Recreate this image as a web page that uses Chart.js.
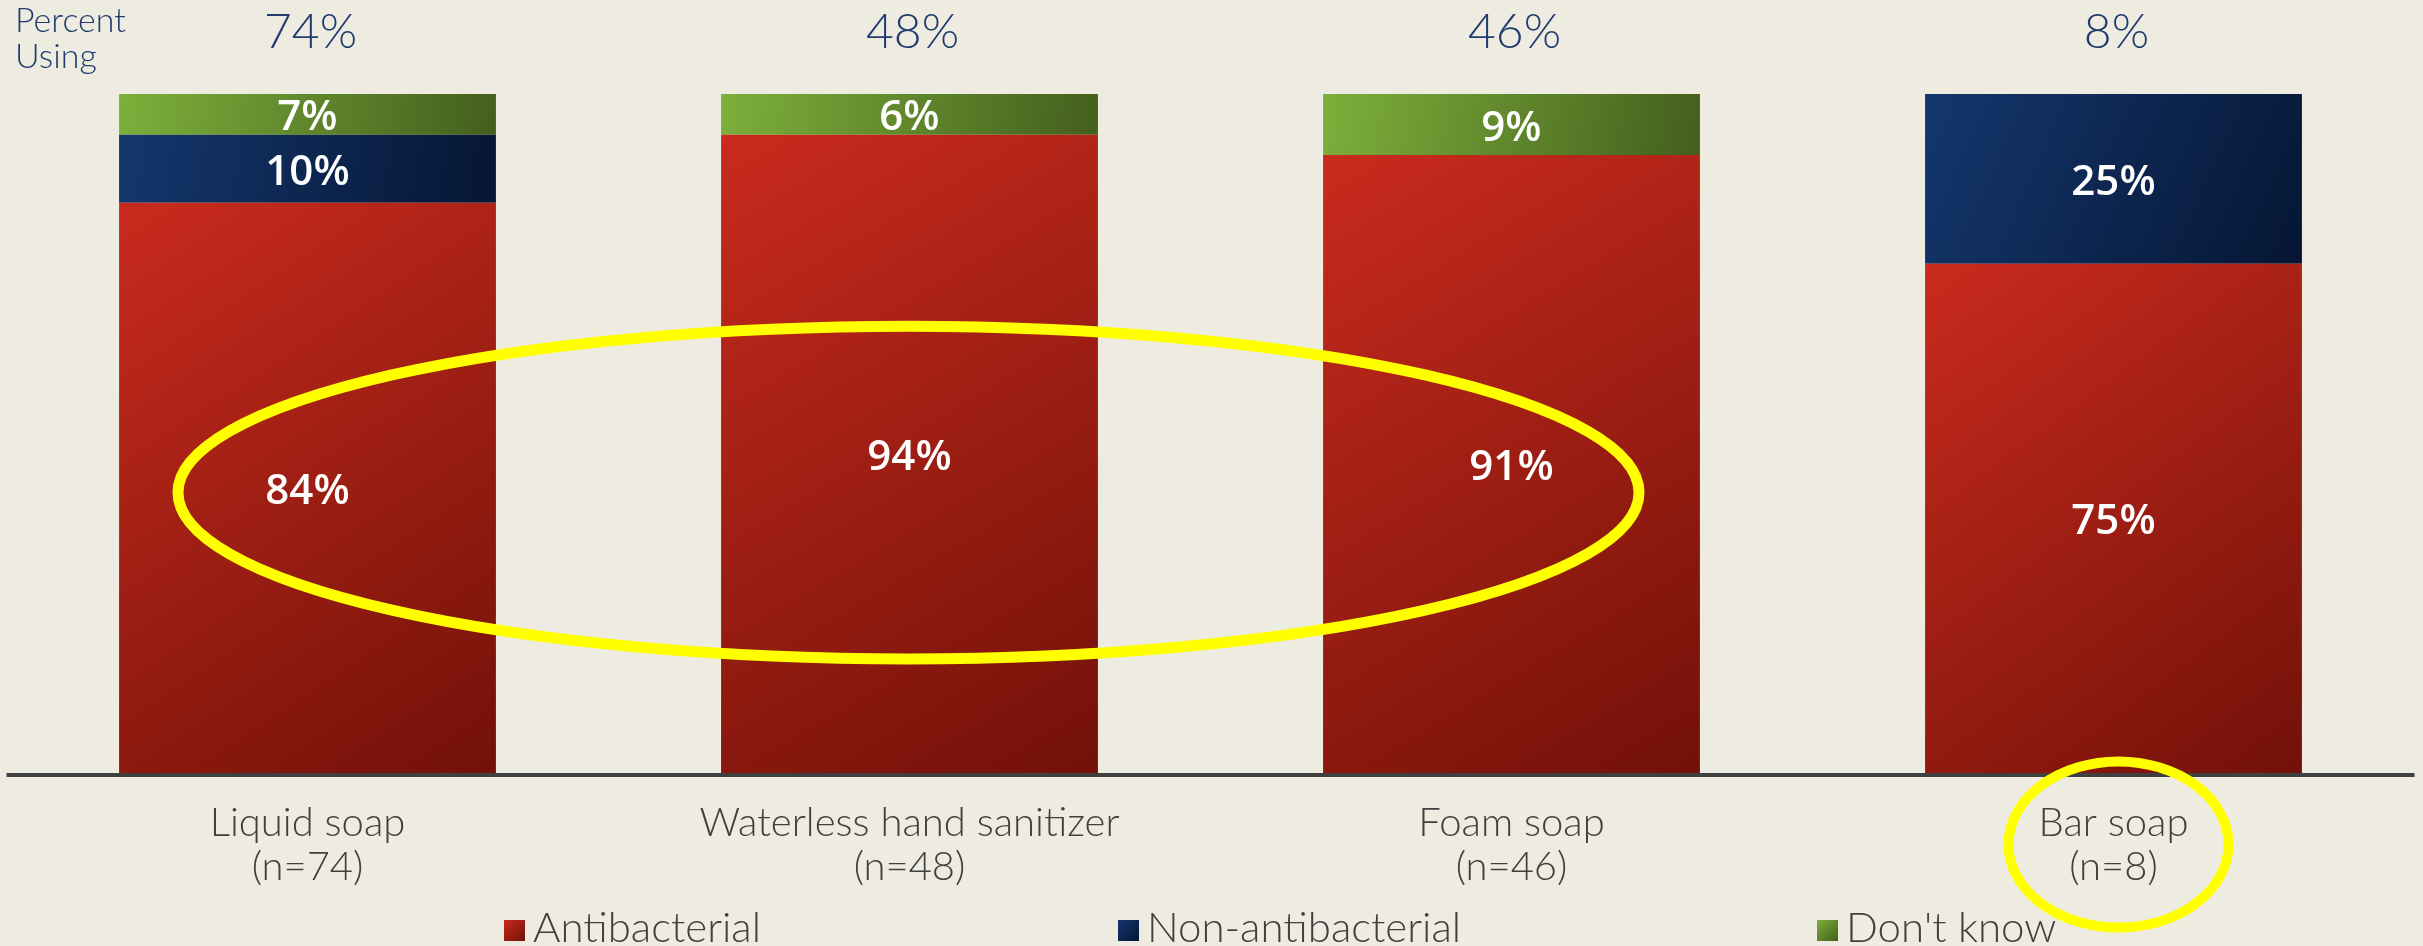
<!DOCTYPE html>
<html>
<head>
<meta charset="utf-8">
<script src="https://cdn.jsdelivr.net/npm/chart.js@4"></script>
<style>
  html, body { margin: 0; padding: 0; background: #EEEBE0; }
  canvas { display: block; }
</style>
</head>
<body>
<canvas id="c" width="2423" height="946"></canvas>
<script>
// ---- data ----
const categories = ['Liquid soap', 'Waterless hand sanitizer', 'Foam soap', 'Bar soap'];
const sampleSizes = ['(n=74)', '(n=48)', '(n=46)', '(n=8)'];
const percentUsing = [74, 48, 46, 8];
const antibacterial = [84, 94, 91, 75];
const nonAntibacterial = [10, 0, 0, 25];
const dontKnow = [7, 6, 9, 0];
const seriesNames = ['Antibacterial', 'Non-antibacterial', "Don't know"];

// ---- styles ----
const BG = '#EEEBE0';
const gradStops = [
  ['#C92B1D', '#721109'],
  ['#14376E', '#061633'],
  ['#7DAF3B', '#435F1D']
];
const seriesData = [antibacterial, nonAntibacterial, dontKnow];
const BAR_PCT = 0.626;
const LIGHT_FONT = '"Lato", "Open Sans", sans-serif';

function segmentGradient(ctx, x0, y0, x1, y1, stops) {
  const g = ctx.createLinearGradient(x0, y0, x1, y1);
  g.addColorStop(0, stops[0]);
  g.addColorStop(1, stops[1]);
  return g;
}

function makeBg(dsIndex) {
  return function (c) {
    const chart = c.chart;
    if (c.type !== 'data' || !chart.chartArea) return gradStops[dsIndex][0];
    const xs = chart.scales.x, ys = chart.scales.y, area = chart.chartArea;
    const i = c.dataIndex;
    let base = 0;
    for (let d = 0; d < dsIndex; d++) base += seriesData[d][i];
    const top = base + seriesData[dsIndex][i];
    const cx = xs.getPixelForValue(i);
    const half = (xs.width / categories.length) * BAR_PCT / 2;
    const y0 = Math.max(ys.getPixelForValue(top), area.top);
    const y1 = ys.getPixelForValue(base);
    return segmentGradient(chart.ctx, cx - half, y0, cx + half, Math.max(y1, y0 + 1), gradStops[dsIndex]);
  };
}

const overlay = {
  id: 'overlay',
  afterDatasetsDraw(chart) {
    const ctx = chart.ctx, area = chart.chartArea;
    const xs = chart.scales.x, ys = chart.scales.y;
    // baseline axis
    ctx.save();
    ctx.strokeStyle = '#404040';
    ctx.lineWidth = 4;
    ctx.beginPath();
    ctx.moveTo(area.left, area.bottom + 2);
    ctx.lineTo(area.right, area.bottom + 2);
    ctx.stroke();

    // in-bar value labels
    ctx.fillStyle = '#FFFFFF';
    ctx.font = '600 42px "Open Sans", sans-serif';
    ctx.textAlign = 'center';
    ctx.textBaseline = 'middle';
    chart.data.datasets.forEach((ds, d) => {
      const meta = chart.getDatasetMeta(d);
      meta.data.forEach((el, i) => {
        const v = ds.data[i];
        if (!v) return;
        const top = Math.max(Math.min(el.y, el.base), area.top);
        const bot = Math.max(el.y, el.base);
        ctx.fillText(v + '%', el.x, (top + bot) / 2 + 4);
      });
    });

    // "Percent Using" header values
    ctx.fillStyle = '#1F3B6F';
    ctx.font = '300 48px ' + LIGHT_FONT;
    ctx.textBaseline = 'alphabetic';
    percentUsing.forEach((p, i) => {
      ctx.fillText(p + '%', xs.getPixelForValue(i) + 3, 48);
    });
    ctx.textAlign = 'left';
    ctx.font = '300 34px ' + LIGHT_FONT;
    ctx.fillText('Percent', 15, 32);
    ctx.fillText('Using', 15, 68);

    // category labels
    ctx.fillStyle = '#404040';
    ctx.textAlign = 'center';
    ctx.font = '300 40px ' + LIGHT_FONT;
    categories.forEach((cat, i) => {
      const x = xs.getPixelForValue(i);
      ctx.fillText(cat, x, area.bottom + 63);
      ctx.fillText(sampleSizes[i], x, area.bottom + 107);
    });

    // legend
    ctx.textAlign = 'left';
    ctx.font = '300 42px ' + LIGHT_FONT;
    const legendX = [504, 1118, 1817];
    const ly = area.bottom + 147;
    seriesNames.forEach((name, d) => {
      const lx = legendX[d];
      ctx.fillStyle = segmentGradient(ctx, lx, ly, lx + 21, ly + 21, gradStops[d]);
      ctx.fillRect(lx, ly, 21, 21);
      ctx.fillStyle = '#404040';
      ctx.fillText(name, lx + 29, ly + 22);
    });
    ctx.restore();
  },
  afterDraw(chart) {
    const ctx = chart.ctx, area = chart.chartArea;
    const xs = chart.scales.x, ys = chart.scales.y;
    const catW = xs.width / categories.length;
    ctx.save();
    ctx.strokeStyle = '#FFFF00';
    // big ellipse around the first three antibacterial values
    ctx.lineWidth = 11;
    ctx.beginPath();
    const cy = ys.getPixelForValue(41.3);
    const ry = Math.abs(ys.getPixelForValue(0) - ys.getPixelForValue(24.5));
    ctx.ellipse(xs.getPixelForValue(1) - 1, cy, catW * 1.2135, ry, 0, 0, Math.PI * 2);
    ctx.stroke();
    // small ellipse around "Bar soap (n=8)"
    ctx.lineWidth = 10;
    ctx.beginPath();
    ctx.ellipse(xs.getPixelForValue(3) + 5, area.bottom + 71.5, 110, 83, 0, 0, Math.PI * 2);
    ctx.stroke();
    ctx.restore();
  }
};

new Chart(document.getElementById('c'), {
  type: 'bar',
  data: {
    labels: categories,
    datasets: seriesNames.map((name, d) => ({
      label: name,
      data: seriesData[d],
      backgroundColor: makeBg(d),
      borderWidth: 0,
      barPercentage: BAR_PCT,
      categoryPercentage: 1
    }))
  },
  options: {
    responsive: false,
    devicePixelRatio: 1,
    animation: false,
    layout: { padding: { top: 94, bottom: 173, left: 6.5, right: 8.5 } },
    scales: {
      x: { stacked: true, display: false },
      y: { stacked: true, display: false, min: 0, max: 100 }
    },
    plugins: {
      legend: { display: false },
      tooltip: { enabled: false }
    }
  },
  plugins: [overlay]
});
</script>
</body>
</html>
